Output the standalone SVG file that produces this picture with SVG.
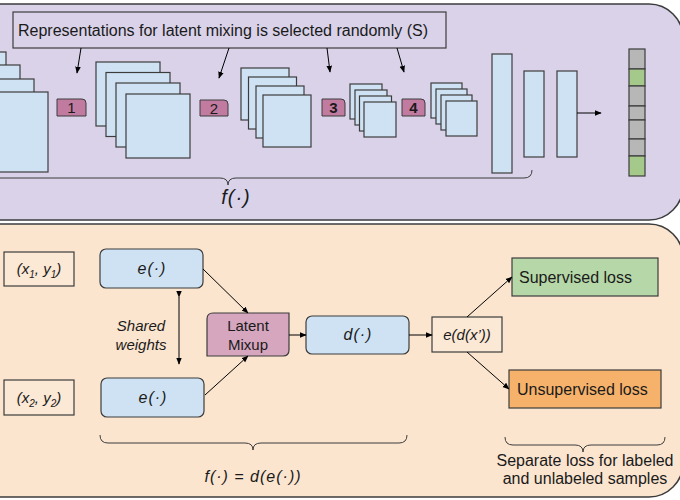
<svg xmlns="http://www.w3.org/2000/svg" width="680" height="500" viewBox="0 0 680 500">
<defs>
<marker id="ah" viewBox="0 0 10 10" refX="9" refY="5" markerWidth="7" markerHeight="7" markerUnits="userSpaceOnUse" orient="auto">
<path d="M0,1 L10,5 L0,9 z" fill="#000"/>
</marker>
<style>
.panel{stroke:#3c3c3c;stroke-width:1.5}
.blk{fill:#cfe2f3;stroke:#3c3c3c;stroke-width:1.2}
.lbl{fill:#c27ba0;stroke:#3c3c3c;stroke-width:1}
.conn{stroke:#000;stroke-width:1;fill:none}
.brace{stroke:#3c3c3c;stroke-width:1;fill:none}
.t{font-family:"Liberation Sans",Arial,sans-serif;fill:#1a1a1a}
.i{font-style:italic}
.fn{letter-spacing:1px}
.gray{fill:#b7b7b7;stroke:#3c3c3c;stroke-width:1.2}
.green{fill:#a4c98b;stroke:#3c3c3c;stroke-width:1.2}
</style>
</defs>

<g id="top-panel">
<rect class="panel" x="-40" y="4" width="723" height="216" rx="34" fill="#d9d2e9"/>
</g>
<g id="bottom-panel">
<rect class="panel" x="-40" y="224" width="723" height="273" rx="34" fill="#fbe5cf"/>
</g>

<g id="selection-note">
<rect x="13" y="12" width="433" height="36" fill="#d9d2e9" stroke="#3c3c3c" stroke-width="1.2"/>
<text class="t" x="223" y="36" font-size="16" text-anchor="middle">Representations for latent mixing is selected randomly (S)</text>
</g>

<g id="stack0">
<rect class="blk" x="-74" y="52" width="80" height="80"/>
<rect class="blk" x="-60" y="65" width="80" height="80"/>
<rect class="blk" x="-46" y="79" width="80" height="80"/>
<rect class="blk" x="-32" y="92" width="80" height="80"/>
</g>
<g id="label1">
<path class="lbl" d="M57,99 H82 Q86,99 86,103 V116 H57 Z"/>
<text class="t" x="71.5" y="113" font-size="15" text-anchor="middle">1</text>
</g>
<g id="stack1">
<rect class="blk" x="96" y="62" width="64" height="64"/>
<rect class="blk" x="106" y="72.5" width="64" height="64"/>
<rect class="blk" x="116" y="83" width="64" height="64"/>
<rect class="blk" x="126" y="94" width="64" height="64"/>
</g>
<g id="label2">
<path class="lbl" d="M200,100 H224 Q228,100 228,104 V116 H200 Z"/>
<text class="t" x="214" y="113.5" font-size="15" text-anchor="middle">2</text>
</g>
<g id="stack2">
<rect class="blk" x="241" y="68" width="48" height="52"/>
<rect class="blk" x="248.5" y="77" width="48" height="52"/>
<rect class="blk" x="256" y="86" width="48" height="52"/>
<rect class="blk" x="263" y="95" width="48" height="52"/>
</g>
<g id="label3">
<path class="lbl" d="M322,99 H341 Q345,99 345,103 V116 H322 Z"/>
<text class="t" x="333.5" y="113" font-size="15" font-weight="bold" text-anchor="middle">3</text>
</g>
<g id="stack3">
<rect class="blk" x="350" y="84" width="32" height="35"/>
<rect class="blk" x="355" y="90" width="32" height="35"/>
<rect class="blk" x="359.5" y="96" width="32" height="35"/>
<rect class="blk" x="364" y="102" width="32" height="35"/>
</g>
<g id="label4">
<path class="lbl" d="M402,99 H421 Q425,99 425,103 V116 H402 Z"/>
<text class="t" x="413.5" y="113" font-size="15" font-weight="bold" text-anchor="middle">4</text>
</g>
<g id="stack4">
<rect class="blk" x="431" y="83" width="31" height="35"/>
<rect class="blk" x="436" y="89" width="31" height="35"/>
<rect class="blk" x="441" y="95" width="31" height="35"/>
<rect class="blk" x="446" y="101" width="31" height="35"/>
</g>
<g id="dense1"><rect class="blk" x="492" y="54" width="20" height="119"/></g>
<g id="dense2"><rect class="blk" x="524" y="71" width="20" height="86"/></g>
<g id="dense3"><rect class="blk" x="557" y="71" width="20" height="86"/></g>
<g id="output">
<rect class="gray" x="629" y="49" width="16" height="20"/>
<rect class="green" x="629" y="69" width="16" height="17"/>
<rect class="gray" x="629" y="86" width="16" height="20"/>
<rect class="gray" x="629" y="106" width="16" height="14"/>
<rect class="gray" x="629" y="120" width="16" height="19"/>
<rect class="gray" x="629" y="139" width="16" height="17"/>
<rect class="green" x="629" y="156" width="16" height="20"/>
</g>
<g id="f-brace">
<path class="brace" d="M-20,170 Q-20,178 -12,178 L220,178 Q228,178 228,185 Q228,178 236,178 L524,178 Q532,178 532,170"/>
<text class="t i fn" x="236" y="204" font-size="20" text-anchor="middle">f(·)</text>
</g>

<g id="x1y1">
<rect x="4" y="252" width="70" height="34" fill="#fbe8d5" stroke="#3c3c3c" stroke-width="1.2"/>
<text class="t i" x="39" y="274" font-size="15" text-anchor="middle">(x<tspan font-size="10" dy="4">1</tspan><tspan dy="-4">, y</tspan><tspan font-size="10" dy="4">1</tspan><tspan dy="-4">)</tspan></text>
</g>
<g id="x2y2">
<rect x="4" y="380" width="70" height="35" fill="#fbe8d5" stroke="#3c3c3c" stroke-width="1.2"/>
<text class="t i" x="39" y="403" font-size="15" text-anchor="middle">(x<tspan font-size="10" dy="4">2</tspan><tspan dy="-4">, y</tspan><tspan font-size="10" dy="4">2</tspan><tspan dy="-4">)</tspan></text>
</g>
<g id="e1">
<rect class="blk" x="100" y="249" width="103" height="39" rx="6"/>
<text class="t i fn" x="152" y="274" font-size="16" text-anchor="middle">e(·)</text>
</g>
<g id="e2">
<rect class="blk" x="101" y="378" width="103" height="39" rx="6"/>
<text class="t i fn" x="153" y="403" font-size="16" text-anchor="middle">e(·)</text>
</g>
<g id="shared-weights">
<text class="t i" x="141" y="331" font-size="15" text-anchor="middle">Shared</text>
<text class="t i" x="141" y="350" font-size="15" text-anchor="middle">weights</text>
</g>
<g id="latent-mixup">
<path d="M213,313 H289 V350 Q289,356 283,356 H207 V319 Q207,313 213,313 Z" fill="#d5a6bd" stroke="#3c3c3c" stroke-width="1.2"/>
<text class="t" x="248" y="331" font-size="15" text-anchor="middle">Latent</text>
<text class="t" x="248" y="350" font-size="15" text-anchor="middle">Mixup</text>
</g>
<g id="d">
<rect class="blk" x="306" y="316" width="103" height="38" rx="6"/>
<text class="t i fn" x="358" y="340" font-size="16" text-anchor="middle">d(·)</text>
</g>
<g id="edx">
<rect x="432" y="317" width="70" height="35" fill="#fbe8d5" stroke="#3c3c3c" stroke-width="1.2"/>
<text class="t i" x="467" y="340" font-size="15" text-anchor="middle">e(d(x’))</text>
</g>
<g id="supervised">
<rect x="512" y="258" width="146" height="38" fill="#b6d7a8" stroke="#3c3c3c" stroke-width="1.2"/>
<text class="t" x="519" y="283" font-size="16">Supervised loss</text>
</g>
<g id="unsupervised">
<rect x="509" y="370" width="152" height="38" fill="#f6b26b" stroke="#3c3c3c" stroke-width="1.2"/>
<text class="t" x="517" y="395" font-size="16">Unsupervised loss</text>
</g>
<g id="fde-brace">
<path class="brace" d="M100,435 Q100,443 108,443 L245,443 Q253,443 253,450 Q253,443 261,443 L399,443 Q407,443 407,435"/>
<text class="t i fn" x="253" y="482" font-size="16" text-anchor="middle">f(·) = d(e(·))</text>
</g>
<g id="loss-brace">
<path class="brace" d="M505,437 Q505,445 513,445 L575,445 Q583,445 583,452 Q583,445 591,445 L657,445 Q665,445 665,437"/>
<text class="t" x="585" y="466" font-size="16" text-anchor="middle">Separate loss for labeled</text>
<text class="t" x="585" y="484" font-size="16" text-anchor="middle">and unlabeled samples</text>
</g>

<g id="connectors">
<line class="conn" x1="81" y1="48" x2="77" y2="73" marker-end="url(#ah)"/>
<line class="conn" x1="229" y1="48" x2="219" y2="78" marker-end="url(#ah)"/>
<line class="conn" x1="327" y1="48" x2="330" y2="72" marker-end="url(#ah)"/>
<line class="conn" x1="397" y1="48" x2="404" y2="72" marker-end="url(#ah)"/>
<line class="conn" x1="577" y1="113" x2="601" y2="113" marker-end="url(#ah)"/>
<line class="conn" x1="179" y1="297" x2="179" y2="364" marker-start="url(#ah)" marker-end="url(#ah)"/>
<line class="conn" x1="203" y1="269" x2="248" y2="313" marker-end="url(#ah)"/>
<line class="conn" x1="205" y1="395" x2="248" y2="356" marker-end="url(#ah)"/>
<line class="conn" x1="289" y1="335" x2="306" y2="335" marker-end="url(#ah)"/>
<line class="conn" x1="409" y1="335" x2="432" y2="335" marker-end="url(#ah)"/>
<line class="conn" x1="467" y1="317" x2="512" y2="277" marker-end="url(#ah)"/>
<line class="conn" x1="467" y1="352" x2="509" y2="389" marker-end="url(#ah)"/>
</g>
</svg>
